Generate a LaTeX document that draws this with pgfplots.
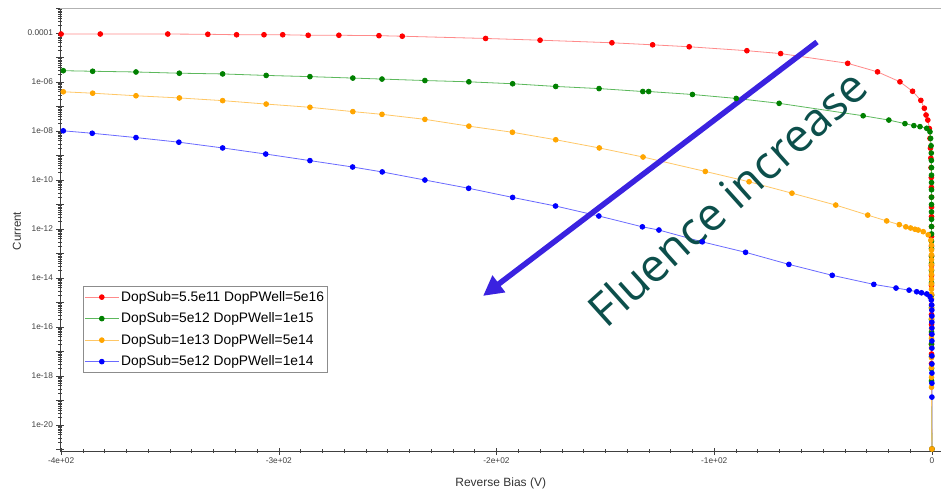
\documentclass[border=0pt]{standalone}
\usepackage{fontspec}
\setmainfont{Liberation Sans}
\newfontfamily\annofont{Open Sans}
\usepackage{pgfplots}
\pgfplotsset{compat=1.18}
\usetikzlibrary{arrows.meta}

\definecolor{redmk}{HTML}{FF0000}
\definecolor{redln}{HTML}{FF8A8A}
\definecolor{grnmk}{HTML}{008000}
\definecolor{grnln}{HTML}{5CB85C}
\definecolor{orgmk}{HTML}{FFA500}
\definecolor{orgln}{HTML}{FFC766}
\definecolor{blumk}{HTML}{0000FF}
\definecolor{bluln}{HTML}{6A6AFF}
\definecolor{arrowblue}{HTML}{3A22E0}
\definecolor{annoteal}{HTML}{0C4F4B}

\begin{document}
\begin{tikzpicture}
\begin{axis}[
  at={(0pt,0pt)}, anchor=south west,
  scale only axis,
  width=885pt, height=443pt,
  xmin=-400.5, xmax=6.0,
  ymode=log,
  ymin=8.7e-22, ymax=1.05e-3,
  axis x line*=bottom, axis y line*=left,
  axis line style={black!75, line width=0.8pt},
  xtick={-400,-300,-200,-100,0},
  xticklabels={-4e+02,-3e+02,-2e+02,-1e+02,0},
  minor x tick num=9,
  ytickten={-21,...,-3},
  yticklabels={{},1e-20,{},1e-18,{},1e-16,{},1e-14,{},1e-12,{},1e-10,{},1e-08,{},1e-06,{},0.0001,{}},
  tick align=center,
  major tick length=7pt,
  minor tick length=3.5pt,
  tick style={black!75, line width=0.6pt},
  ticklabel style={font=\fontsize{8.3}{9}\selectfont, text=black!75},
  /pgf/number format/assume math mode=true,
  xlabel={Reverse Bias (V)},
  xlabel style={at={(axis description cs:0.498,-0.0722)}, anchor=center,
    font=\fontsize{12}{14}\selectfont, text=black!80},
  ylabel={Current},
  ylabel style={at={(axis description cs:-0.0486,0.4966)}, anchor=center,
    font=\fontsize{11.5}{14}\selectfont, text=black!80},
  legend style={at={(rel axis cs:0.026,0.3725)}, anchor=north west,
    draw=black!45, fill=white, font=\fontsize{13.8}{15}\selectfont,
    inner xsep=1pt, inner ysep=3pt, row sep=6pt, line width=0.8pt},
  legend cell align=left,
  legend image code/.code={\draw[mark repeat=2,mark phase=2,#1] plot coordinates {(0pt,0pt) (17pt,0pt) (34pt,0pt)};},
]
% blue tail to the bottom edge, drawn first so that the red end point stays on top
\addplot[bluln, line width=0.8pt, forget plot] coordinates {(-0.02,1.38e-19) (0,1e-23)};

\addplot[redln, line width=0.8pt, mark=*, mark size=2.4pt, mark options={draw=redmk, fill=redmk}] coordinates {
  (-400,9.1e-5) (-382,9.1e-5) (-351,9.1e-5) (-332.6,8.9e-5) (-319.4,8.5e-5)
  (-306.8,8.5e-5) (-298.2,8.5e-5) (-286.5,8.1e-5) (-272.4,8.1e-5) (-254,7.8e-5)
  (-243.3,7.4e-5) (-205,6.0e-5) (-180,5.1e-5) (-147,4.0e-5) (-128.3,3.3e-5)
  (-111.5,2.75e-5) (-85,1.9e-5) (-69.5,1.45e-5) (-38.7,5.8e-6) (-25,2.6e-6)
  (-14.7,1.02e-6) (-8.9,4.2e-7) (-5.1,1.78e-7) (-3.5,8.5e-8) (-2.7,4.5e-8)
  (-1.9,2.8e-8) (-1.2,1.26e-8) (-0.9,5.0e-9) (-0.7,2.0e-9) (-0.5,7.9e-10)
  (-0.4,3.2e-10) (-0.3,1.26e-10) (-0.25,5.0e-11) (-0.2,2.0e-11) (-0.2,7.9e-12)
  (-0.2,3.2e-12) (-0.2,1.26e-12) (-0.2,5.0e-13) (-0.2,2.0e-13) (-0.2,7.9e-14)
  (-0.2,3.2e-14) (-0.2,1.26e-14) (-0.2,5.0e-15) (-0.2,2.0e-15) (-0.2,7.9e-16)
  (-0.2,3.2e-16) (-0.2,1.26e-16) (-0.2,5.0e-17) (-0.2,2.0e-17) (-0.2,7.9e-18)
  (-0.2,3.2e-18) (0,1.05e-21)
};
\addlegendentry{DopSub=5.5e11 DopPWell=5e16}

\addplot[grnln, line width=0.8pt, mark=*, mark size=2.4pt, mark options={draw=grnmk, fill=grnmk}] coordinates {
  (-399,2.9e-6) (-385.5,2.75e-6) (-365.6,2.57e-6) (-345.7,2.29e-6) (-325.8,2.14e-6)
  (-305.8,1.86e-6) (-285.7,1.66e-6) (-266,1.45e-6) (-252.6,1.32e-6) (-232.9,1.15e-6)
  (-212.7,1.02e-6) (-192.6,8.5e-7) (-172.8,6.6e-7) (-152.9,5.4e-7) (-132.8,4.1e-7)
  (-130.1,4.1e-7) (-110,3.1e-7) (-89.9,2.14e-7) (-70.2,1.35e-7) (-31.6,4.2e-8)
  (-19.8,2.8e-8) (-12.4,2.0e-8) (-8.3,1.66e-8) (-5.5,1.51e-8) (-2.4,1.29e-8)
  (-0.9,9.3e-9) (-0.6,5.0e-9) (-0.4,2.5e-9) (-0.3,1.26e-9) (-0.25,6.3e-10)
  (-0.2,3.2e-10) (-0.2,1.58e-10) (-0.2,7.9e-11) (-0.2,4.0e-11) (-0.2,2.0e-11)
  (-0.2,1.0e-11) (-0.2,5.0e-12) (-0.2,2.5e-12) (-0.2,1.26e-12) (-0.2,6.3e-13)
  (-0.2,3.2e-13) (-0.2,1.58e-13) (-0.2,7.9e-14) (-0.2,4.0e-14) (-0.2,2.0e-14)
  (-0.2,6.3e-15) (-0.2,2.0e-15) (-0.2,6.3e-16) (-0.2,2.0e-16) (-0.2,6.3e-17)
  (-0.2,2.0e-17) (-0.2,6.3e-18) (-0.2,2.0e-18) (-0.2,6.3e-19) (0,1.05e-21)
};
\addlegendentry{DopSub=5e12 DopPWell=1e15}

\addplot[orgln, line width=0.8pt, mark=*, mark size=2.4pt, mark options={draw=orgmk, fill=orgmk}] coordinates {
  (-399,4.0e-7) (-385.5,3.5e-7) (-365.6,2.75e-7) (-345.7,2.24e-7) (-325.8,1.74e-7)
  (-305.8,1.26e-7) (-285.7,9.3e-8) (-266,6.2e-8) (-252.6,4.8e-8) (-232.9,3.0e-8)
  (-212.7,1.58e-8) (-192.7,8.9e-9) (-172.8,4.4e-9) (-152.8,2.04e-9) (-132.7,8.7e-10)
  (-104.1,2.24e-10) (-84,8.5e-11) (-64.3,2.9e-11) (-44.2,9.5e-12) (-29.5,3.7e-12)
  (-20.8,2.14e-12) (-15,1.51e-12) (-12,1.23e-12) (-9.8,1.1e-12) (-7.8,9.8e-13)
  (-6.3,9.1e-13) (-4.0,7.8e-13) (-1.7,5.8e-13) (-0.5,3.5e-13) (-0.2,2.2e-13)
  (-0.2,1.4e-13) (-0.2,8.9e-14) (-0.2,5.6e-14) (-0.2,3.5e-14) (-0.2,2.2e-14)
  (-0.2,1.4e-14) (-0.2,8.9e-15) (-0.2,5.6e-15) (-0.2,3.5e-15) (-0.2,2.2e-15)
  (-0.2,1.4e-15) (-0.2,5.6e-16) (-0.2,2.2e-16) (-0.2,8.9e-17) (-0.2,3.5e-17)
  (-0.2,1.4e-17) (-0.2,5.6e-18) (-0.2,2.2e-18) (-0.2,8.9e-19) (-0.2,3.5e-19)
  (0,1.05e-21)
};
\addlegendentry{DopSub=1e13 DopPWell=5e14}

\addplot[bluln, line width=0.8pt, mark=*, mark size=2.4pt, mark options={draw=blumk, fill=blumk}] coordinates {
  (-399,1.02e-8) (-385.7,8.1e-9) (-365.6,5.4e-9) (-345.9,3.5e-9) (-325.8,2.04e-9)
  (-306,1.15e-9) (-285.7,6.2e-10) (-266.1,3.4e-10) (-252.5,2.14e-10) (-232.9,1.0e-10)
  (-212.8,4.6e-11) (-192.6,1.95e-11) (-172.9,8.7e-12) (-153,3.4e-12) (-133,1.23e-12)
  (-125.4,9.1e-13) (-105.5,3.0e-13) (-85.6,1.12e-13) (-65.7,3.6e-14) (-45.8,1.29e-14)
  (-26.7,5.5e-15) (-16.5,3.9e-15) (-10.5,3.2e-15) (-7.0,2.75e-15) (-4.8,2.5e-15)
  (-2.4,2.24e-15) (-0.9,1.74e-15) (-0.3,1.26e-15) (-0.1,7.9e-16) (-0.05,4.9e-16)
  (-0.02,2.8e-16) (-0.02,1.58e-16) (-0.02,9.1e-17) (-0.02,5.1e-17) (-0.02,2.7e-17)
  (-0.02,1.38e-17) (-0.02,6.6e-18) (-0.02,3.1e-18) (-0.02,1.32e-18) (-0.02,5.1e-19)
  (-0.02,1.38e-19)
};
\addlegendentry{DopSub=5e12 DopPWell=1e14}

% gray top border of the plot area
\draw[black!30, line width=1.6pt] (rel axis cs:0,1) -- (rel axis cs:1,1);

% annotation
\draw[arrowblue, line width=5.5pt, -{Triangle[length=20pt,width=20pt]}]
  (axis cs:-52.8,4.3e-5) -- (axis cs:-206.2,1.86e-15);
\node[rotate=42, text=annoteal, font=\annofont\fontsize{46}{46}\selectfont]
  at (axis cs:-94,1.9e-11) {Fluence increase};
\end{axis}
\pgfresetboundingbox
\path (-60pt,-41pt) rectangle (881pt,451pt);
\end{tikzpicture}
\end{document}
